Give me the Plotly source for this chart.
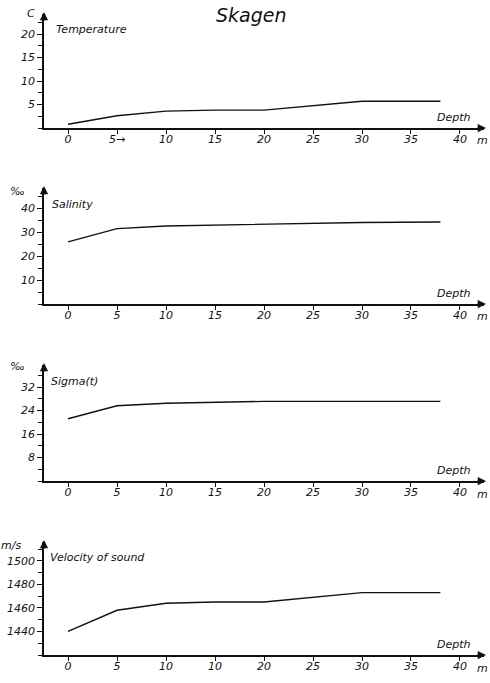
import plotly.graph_objects as go

# ---- data ----
depth = [0, 5, 10, 15, 20, 25, 30, 38]
temperature = [0.8, 2.6, 3.6, 3.8, 3.8, 4.8, 5.7, 5.7]
salinity = [26.0, 31.5, 32.6, 33.0, 33.4, 33.9, 34.1, 34.3]
sigma_t = [21.2, 25.6, 26.5, 26.8, 27.1, 27.1, 27.1, 27.1]
velocity = [1440, 1458, 1464, 1465, 1465, 1469, 1473, 1473]

depth_ticks = [0, 5, 10, 15, 20, 25, 30, 35, 40]
depth_labels_1 = ["0", "5\u2192", "10", "15", "20", "25", "30", "35", "40"]
depth_labels_2 = ["0", "5", "10", "15", "20", "25", "30", "35", "40"]
depth_labels_3 = ["0", "5", "10", "15", "20", "25", "30", "35", "40"]
depth_labels_4 = ["0", "5", "10", "10", "20", "25", "30", "35", "40"]

temp_ticks = [5, 10, 15, 20]
sal_ticks = [10, 20, 30, 40]
sig_ticks = [8, 16, 24, 32]
vel_ticks = [1440, 1460, 1480, 1500]

panel_names = ["Temperature", "Salinity", "Sigma(t)", "Velocity of sound"]
units = ["C", "\u2030", "\u2030", "m/s"]
title = "Skagen"

# ---- layout geometry (pixels) ----
W, H = 490, 683
X0, X1 = 44, 484
XR = (-2.45, 42.45)
panels = [
    dict(y=temperature, ax_px=128, top_px=14, rng=(0, 24.3), minor=2.5, ticks=temp_ticks,
         xl=depth_labels_1, name_xy=(54, 29), unit_xy=(37, 14), depth_y=118, lab_y=140),
    dict(y=salinity, ax_px=304, top_px=188, rng=(0, 48.5), minor=5, ticks=sal_ticks,
         xl=depth_labels_2, name_xy=(50, 204), unit_xy=(27, 191), depth_y=293, lab_y=316),
    dict(y=sigma_t, ax_px=481, top_px=365, rng=(0, 39.5), minor=4, ticks=sig_ticks,
         xl=depth_labels_3, name_xy=(49, 381), unit_xy=(27, 366), depth_y=470, lab_y=494),
    dict(y=velocity, ax_px=655, top_px=542, rng=(1420, 1516), minor=10, ticks=vel_ticks,
         xl=depth_labels_4, name_xy=(48, 557), unit_xy=(23, 545), depth_y=644, lab_y=668),
]

def px(xp):
    return xp / W

def py(yp):
    return 1 - yp / H

ink = "#111111"
FAM = "DejaVu Sans"
tfont = dict(family=FAM, size=11, color=ink, style="italic")
lfont = dict(family=FAM, size=11, color=ink, style="italic")

fig = go.Figure()
annotations = []
for i, p in enumerate(panels, start=1):
    xa = "x" if i == 1 else f"x{i}"
    ya = "y" if i == 1 else f"y{i}"
    fig.add_trace(go.Scatter(x=depth, y=p["y"], mode="lines", xaxis=xa, yaxis=ya,
                             line=dict(color=ink, width=1.4), showlegend=False,
                             hoverinfo="skip"))
    xkey = "xaxis" if i == 1 else f"xaxis{i}"
    ykey = "yaxis" if i == 1 else f"yaxis{i}"
    fig.update_layout({
        xkey: dict(domain=[px(X0), px(X1)], range=list(XR), anchor=ya,
                   showgrid=False, zeroline=False, showline=True, linecolor=ink, linewidth=1.6,
                   ticks="outside", ticklen=4, tickwidth=1.3, tickcolor=ink,
                   tickvals=depth_ticks, ticktext=p["xl"], tickfont=tfont, ticklabelstandoff=-4,
                   fixedrange=True),
        ykey: dict(domain=[py(p["ax_px"]), py(p["top_px"])], range=list(p["rng"]), anchor=xa,
                   showgrid=False, zeroline=False, showline=True, linecolor=ink, linewidth=1.6,
                   ticks="outside", ticklen=5, tickwidth=1.3, tickcolor=ink,
                   tickvals=p["ticks"], tickfont=tfont, ticklabelstandoff=0,
                   minor=dict(dtick=p["minor"], ticks="outside", ticklen=4, tickwidth=1.2,
                              tickcolor=ink),
                   fixedrange=True),
    })
    annotations.append(dict(x=px(X0), y=py(p["top_px"] - 2), xref="paper", yref="paper", text="",
                            showarrow=True, arrowhead=2, arrowsize=1.1, arrowwidth=1.5,
                            arrowcolor=ink, ax=0, ay=10))
    annotations.append(dict(x=px(X1 + 2), y=py(p["ax_px"]), xref="paper", yref="paper", text="",
                            showarrow=True, arrowhead=2, arrowsize=1.1, arrowwidth=1.5,
                            arrowcolor=ink, ax=-10, ay=0))
    annotations.append(dict(x=px(p["name_xy"][0]), y=py(p["name_xy"][1]), xref="paper", yref="paper",
                            text=panel_names[i - 1], showarrow=False, xanchor="left", yanchor="middle",
                            font=lfont))
    annotations.append(dict(x=px(p["unit_xy"][0]), y=py(p["unit_xy"][1]), xref="paper", yref="paper",
                            text=units[i - 1], showarrow=False, xanchor="right", yanchor="middle",
                            font=lfont))
    annotations.append(dict(x=px(473), y=py(p["depth_y"]), xref="paper", yref="paper",
                            text="Depth", showarrow=False, xanchor="right", yanchor="middle",
                            font=lfont))
    annotations.append(dict(x=px(490), y=py(p["lab_y"]), xref="paper", yref="paper",
                            text="m", showarrow=False, xanchor="right", yanchor="middle",
                            font=tfont))

annotations.append(dict(x=px(252), y=py(15), xref="paper", yref="paper", text=title,
                        showarrow=False, xanchor="center", yanchor="middle",
                        font=dict(family=FAM, size=19, color=ink, style="italic")))

fig.update_layout(width=W, height=H, margin=dict(l=0, r=0, t=0, b=0),
                  paper_bgcolor="white", plot_bgcolor="white", annotations=annotations,
                  showlegend=False)

fig.write_html("out.html")
